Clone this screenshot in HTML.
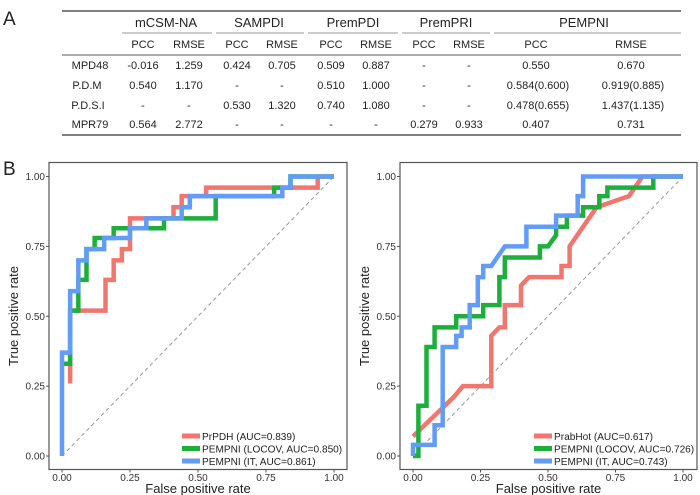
<!DOCTYPE html>
<html><head><meta charset="utf-8">
<style>
body{margin:0;background:#fff;width:700px;height:495px;overflow:hidden;font-family:"Liberation Sans",Arial,sans-serif}
svg{position:absolute;left:0;top:0}
</style></head>
<body>
<svg id="fig" width="700" height="495" viewBox="0 0 700 495" xmlns="http://www.w3.org/2000/svg" font-family="Liberation Sans, Arial, sans-serif">
<g>
<text x="3" y="25" font-size="19" fill="#222">A</text>
<line x1="62" y1="11" x2="681" y2="11" stroke="#555" stroke-width="1.5"/>
<line x1="62" y1="55" x2="681" y2="55" stroke="#555" stroke-width="1"/>
<line x1="62" y1="135" x2="681" y2="135" stroke="#555" stroke-width="1.5"/>
<g stroke="#777" stroke-width="0.8">
<line x1="122" y1="33" x2="212" y2="33"/><line x1="216" y1="33" x2="304" y2="33"/>
<line x1="308" y1="33" x2="398" y2="33"/><line x1="402" y1="33" x2="490" y2="33"/>
<line x1="494" y1="33" x2="681" y2="33"/>
</g>
<g font-size="13" fill="#222" text-anchor="middle">
<text x="166" y="27">mCSM-NA</text><text x="259" y="27">SAMPDI</text><text x="353" y="27">PremPDI</text><text x="446" y="27">PremPRI</text><text x="584" y="27">PEMPNI</text>
</g>
<g font-size="11" fill="#222" text-anchor="middle">
<text x="143" y="48">PCC</text><text x="189" y="48">RMSE</text><text x="237" y="48">PCC</text><text x="282" y="48">RMSE</text>
<text x="331" y="48">PCC</text><text x="376" y="48">RMSE</text><text x="424" y="48">PCC</text><text x="469" y="48">RMSE</text>
<text x="536" y="48">PCC</text><text x="631" y="48">RMSE</text>
</g>
<g font-size="11" fill="#222" text-anchor="middle">
<text x="90" y="69">MPD48</text><text x="143" y="69">-0.016</text><text x="189" y="69">1.259</text><text x="237" y="69">0.424</text><text x="282" y="69">0.705</text><text x="331" y="69">0.509</text><text x="376" y="69">0.887</text><text x="424" y="69">-</text><text x="469" y="69">-</text><text x="536" y="69">0.550</text><text x="631" y="69">0.670</text>
<text x="87" y="89">P.D.M</text><text x="143" y="89">0.540</text><text x="189" y="89">1.170</text><text x="237" y="89">-</text><text x="282" y="89">-</text><text x="331" y="89">0.510</text><text x="376" y="89">1.000</text><text x="424" y="89">-</text><text x="469" y="89">-</text><text x="538" y="89">0.584(0.600)</text><text x="633" y="89">0.919(0.885)</text>
<text x="88" y="109">P.D.S.I</text><text x="143" y="109">-</text><text x="189" y="109">-</text><text x="237" y="109">0.530</text><text x="282" y="109">1.320</text><text x="331" y="109">0.740</text><text x="376" y="109">1.080</text><text x="424" y="109">-</text><text x="469" y="109">-</text><text x="538" y="109">0.478(0.655)</text><text x="633" y="109">1.437(1.135)</text>
<text x="90" y="128">MPR79</text><text x="143" y="128">0.564</text><text x="189" y="128">2.772</text><text x="237" y="128">-</text><text x="282" y="128">-</text><text x="331" y="128">-</text><text x="376" y="128">-</text><text x="424" y="128">0.279</text><text x="469" y="128">0.933</text><text x="536" y="128">0.407</text><text x="631" y="128">0.731</text>
</g>
</g>
<text x="3" y="175" font-size="19" fill="#222">B</text>
<g id="left"></g>
<g id="right"></g>
</svg>
<script>
const ticks = [0, 0.25, 0.5, 0.75, 1];
const tickLabels = ["0.00", "0.25", "0.50", "0.75", "1.00"];
// Left chart
const leftNames = ["PrPDH (AUC=0.839)", "PEMPNI (LOCOV, AUC=0.850)", "PEMPNI (IT, AUC=0.861)"];
const leftRedX = [0.03,0.03,0.16,0.16,0.19,0.19,0.22,0.22,0.25,0.25,0.41,0.41,0.44,0.44,0.53,0.53,0.94,0.94,1];
const leftRedY = [0.26,0.52,0.52,0.63,0.63,0.70,0.70,0.74,0.74,0.85,0.85,0.89,0.89,0.93,0.93,0.96,0.96,1,1];
const leftGreenX = [0,0.03,0.03,0.06,0.06,0.09,0.09,0.12,0.12,0.19,0.19,0.375,0.375,0.565,0.565,0.78,0.78,0.84,0.84,1];
const leftGreenY = [0.33,0.33,0.52,0.52,0.63,0.63,0.74,0.74,0.78,0.78,0.815,0.815,0.85,0.85,0.93,0.93,0.96,0.96,1,1];
const leftBlueX = [0,0,0.03,0.03,0.06,0.06,0.09,0.09,0.155,0.155,0.25,0.25,0.31,0.31,0.44,0.44,0.47,0.47,0.81,0.81,0.84,0.84,1];
const leftBlueY = [0,0.37,0.37,0.59,0.59,0.70,0.70,0.74,0.74,0.78,0.78,0.815,0.815,0.85,0.85,0.89,0.89,0.93,0.93,0.96,0.96,1,1];
// Right chart
const rightNames = ["PrabHot (AUC=0.617)", "PEMPNI (LOCOV, AUC=0.726)", "PEMPNI (IT, AUC=0.743)"];
const rightRedX = [0,0.15,0.185,0.29,0.29,0.32,0.34,0.34,0.40,0.40,0.43,0.55,0.55,0.58,0.58,0.68,0.80,0.85,1];
const rightRedY = [0.07,0.21,0.25,0.25,0.43,0.46,0.46,0.54,0.54,0.61,0.64,0.64,0.68,0.68,0.75,0.89,0.93,1,1];
const rightGreenX = [0,0.02,0.02,0.05,0.05,0.08,0.08,0.16,0.16,0.26,0.26,0.32,0.32,0.34,0.34,0.47,0.47,0.50,0.53,0.53,0.57,0.57,0.63,0.63,0.69,0.69,0.72,0.72,0.89,0.89,1];
const rightGreenY = [0,0,0.18,0.18,0.39,0.39,0.46,0.46,0.50,0.50,0.54,0.54,0.64,0.64,0.71,0.71,0.75,0.75,0.79,0.82,0.82,0.86,0.86,0.89,0.89,0.93,0.93,0.96,0.96,1,1];
const rightBlueX = [0,0,0.08,0.08,0.11,0.11,0.16,0.16,0.18,0.18,0.21,0.21,0.24,0.24,0.26,0.26,0.29,0.34,0.42,0.42,0.53,0.53,0.61,0.61,0.63,0.63,1];
const rightBlueY = [0,0.04,0.04,0.11,0.11,0.39,0.39,0.43,0.43,0.46,0.46,0.54,0.54,0.64,0.64,0.68,0.68,0.75,0.75,0.82,0.82,0.86,0.86,0.93,0.93,1,1];
const colors = ["#F0766E", "#1DAE3C", "#629CF6"];
const NS = "http://www.w3.org/2000/svg";
function mk(tag, attrs, parent){const e=document.createElementNS(NS,tag);for(const k in attrs)e.setAttribute(k,attrs[k]);parent.appendChild(e);return e;}
function draw(g, frame, series, names){
  const x0=frame.x0, x1=frame.x1, y0=456, y1=176.5;
  const sx=v=>x0+v*(x1-x0), sy=v=>y0-v*(y0-y1);
  const fr=mk('rect',{x:frame.l,y:162.5,width:frame.r-frame.l,height:307,fill:'none',stroke:'#555','stroke-width':1.2},g);
  
  
  ticks.forEach((t,i)=>{
    mk('line',{x1:frame.l-3,x2:frame.l,y1:sy(t),y2:sy(t),stroke:'#555'},g);
    const ty=mk('text',{x:frame.l-4,y:sy(t)+3.5,'font-size':10,'text-anchor':'end',fill:'#333'},g);ty.textContent=tickLabels[i];
    
    
    mk('line',{x1:sx(t),x2:sx(t),y1:469.5,y2:472.5,stroke:'#555'},g);
    const tx=mk('text',{x:sx(t),y:481,'font-size':10,'text-anchor':'middle',fill:'#333'},g);tx.textContent=tickLabels[i];
    
    
  });
  const d=mk('line',{x1:sx(0),y1:sy(0),x2:sx(1),y2:sy(1),stroke:'#999','stroke-dasharray':'4,3','stroke-width':1},g);
  
  
  series.forEach((s,i)=>{
    const pts=s[0].map((v,j)=>sx(v)+','+sy(s[1][j])).join(' ');
    const p=mk('polyline',{points:pts,fill:'none',stroke:colors[i],'stroke-width':4.5,'stroke-linejoin':'miter'},g);
    
    
  });
  const xt=mk('text',{x:(frame.l+frame.r)/2,y:493,'font-size':13,'text-anchor':'middle',fill:'#222'},g);xt.textContent='False positive rate';
  
  
  const yt=mk('text',{x:0,y:0,'font-size':13,'text-anchor':'middle',fill:'#222',transform:`translate(${frame.l-31},316) rotate(-90)`},g);yt.textContent='True positive rate';
  
  
  names.forEach((n,i)=>{
    const ly=436+i*12.5;
    const lg=mk('g',{},g);
    
    
    mk('rect',{x:frame.lx,y:ly-2.5,width:18,height:5,fill:colors[i]},lg);
    const t=mk('text',{x:frame.lx+20,y:ly+4,'font-size':10.1,fill:'#222'},lg);t.textContent=n;
  });
}
draw(document.getElementById('left'),{l:49,r:347,x0:62,x1:334,lx:182},[[leftRedX,leftRedY],[leftGreenX,leftGreenY],[leftBlueX,leftBlueY]],leftNames);
draw(document.getElementById('right'),{l:400,r:697,x0:413,x1:683,lx:534},[[rightRedX,rightRedY],[rightGreenX,rightGreenY],[rightBlueX,rightBlueY]],rightNames);
</script>
</body></html>
